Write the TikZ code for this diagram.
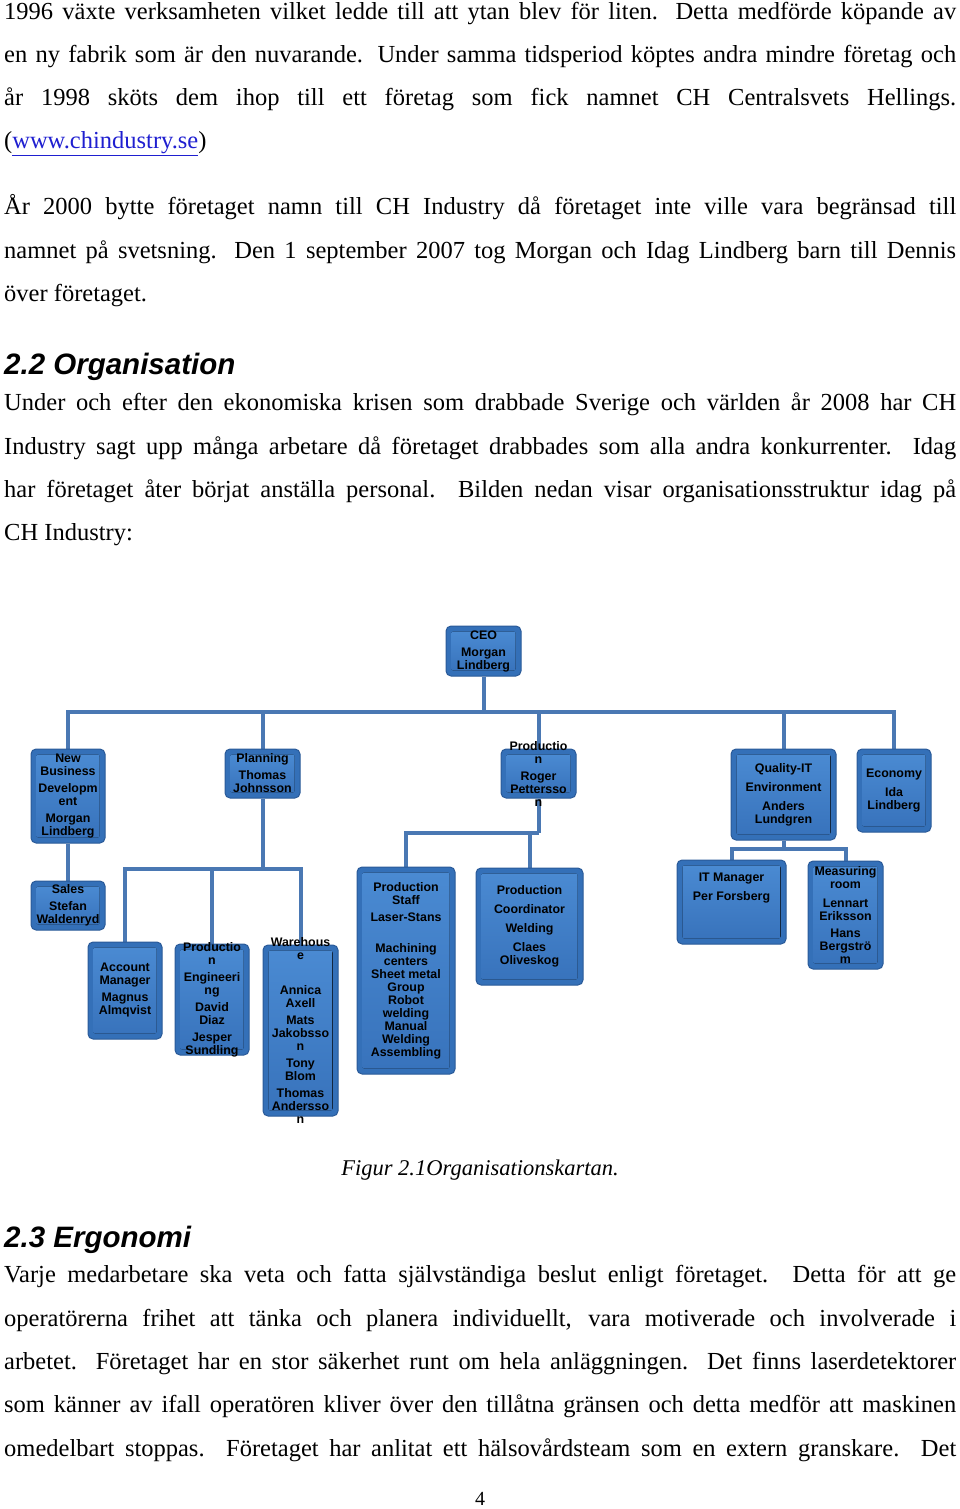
\documentclass[tikz,border=0pt]{standalone}
\usepackage{fontspec}
\setmainfont{Liberation Serif}
\newfontfamily\arialf{Liberation Sans}
\usetikzlibrary{backgrounds}
\definecolor{conncol}{HTML}{4A78B3}
\definecolor{boxedge}{HTML}{2A5A98}
\definecolor{boxout}{HTML}{3470B8}
\definecolor{facetop}{HTML}{4A8AD2}
\definecolor{facebot}{HTML}{3873BC}
\definecolor{linkblue}{HTML}{1F1FD0}
\tikzset{
 boxo/.style={draw=boxedge,line width=1pt,fill=boxout,rounded corners=5pt,inner sep=0pt},
 boxt/.style={align=center,font=\arialf\bfseries\fontsize{12.4pt}{13pt}\selectfont,text=black,inner sep=0pt},
 conn/.style={draw=conncol,line width=4pt},
 bodyl/.style={anchor=base west,inner sep=0pt,font=\fontsize{24.5pt}{30pt}\selectfont},
 headl/.style={anchor=base west,inner sep=0pt,font=\arialf\bfseries\itshape\fontsize{29.5pt}{34pt}\selectfont}
}
\newcommand\obox[6]{%
 \node[boxo,minimum width=#4pt,minimum height=#5pt] (#1) at (#2,#3) {};
 \fill[top color=facetop,bottom color=facebot,rounded corners=2pt] ([shift={(6pt,-6pt)}]#1.north west) rectangle ([shift={(-6pt,6pt)}]#1.south east);
 \node[boxt] (#1-t) at (#1) {#6};}
\newcommand\jl[2]{\node[bodyl] at (4,#1) {\makebox[952pt][s]{#2}};}
\newcommand\lastl[2]{\node[bodyl] at (4,#1) {#2};}
\begin{document}
\begin{tikzpicture}[x=1pt,y=-1pt]
\useasboundingbox (0,0) rectangle (960,1509);
% text
\jl{20}{1996 växte verksamheten vilket ledde till att ytan blev för liten. Detta medförde köpande av}
\jl{63}{en ny fabrik som är den nuvarande. Under samma tidsperiod köptes andra mindre företag och}
\jl{106}{år 1998 sköts dem ihop till ett företag som fick namnet CH Centralsvets Hellings.}
\lastl{149}{(\textcolor{linkblue}{\underline{www.chindustry.se}})}
\jl{214}{År 2000 bytte företaget namn till CH Industry då företaget inte ville vara begränsad till}
\jl{258}{namnet på svetsning. Den 1 september 2007 tog Morgan och Idag Lindberg barn till Dennis}
\lastl{301}{över företaget.}
\node[headl] at (4,374) {2.2 Organisation};
\jl{410}{Under och efter den ekonomiska krisen som drabbade Sverige och världen år 2008 har CH}
\jl{454}{Industry sagt upp många arbetare då företaget drabbades som alla andra konkurrenter. Idag}
\jl{497}{har företaget åter börjat anställa personal. Bilden nedan visar organisationsstruktur idag på}
\lastl{540}{CH Industry:}
\node[anchor=base,inner sep=0pt,font=\itshape\fontsize{22.5pt}{26pt}\selectfont] (cap) at (480,1175) {Figur 2.1Organisationskartan.};
\node[headl] at (4,1247) {2.3 Ergonomi};
\jl{1282}{Varje medarbetare ska veta och fatta självständiga beslut enligt företaget. Detta för att ge}
\jl{1326}{operatörerna frihet att tänka och planera individuellt, vara motiverade och involverade i}
\jl{1369}{arbetet. Företaget har en stor säkerhet runt om hela anläggningen. Det finns laserdetektorer}
\jl{1412}{som känner av ifall operatören kliver över den tillåtna gränsen och detta medför att maskinen}
\jl{1456}{omedelbart stoppas. Företaget har anlitat ett hälsovårdsteam som en extern granskare. Det}
\node[anchor=base,inner sep=0pt,font=\fontsize{20pt}{24pt}\selectfont] (pg) at (480,1505) {4};
% org chart
\obox{ceo}{483.5}{651}{75}{50}{CEO\\[4pt]Morgan\\Lindberg}
\obox{nbd}{68}{796}{74}{94}{New\\Business\\[4pt]Developm\\ent\\[4pt]Morgan\\Lindberg}
\obox{sales}{68}{905.5}{74}{49}{Sales\\[4pt]Stefan\\Waldenryd}
\obox{plan}{262.5}{773.5}{75}{49}{Planning\\[4pt]Thomas\\Johnsson}
\obox{acct}{125}{990.5}{74}{97}{Account\\Manager\\[4pt]Magnus\\Almqvist}
\obox{peng}{212}{999.5}{74}{111}{Productio\\n\\[4pt]Engineeri\\ng\\[4pt]David\\Diaz\\[4pt]Jesper\\Sundling}
\obox{ware}{300.5}{1030.5}{75}{171}{Warehous\\e\\[22pt]Annica\\Axell\\[4pt]Mats\\Jakobsso\\n\\[4pt]Tony\\Blom\\[4pt]Thomas\\Andersso\\n}
\obox{pstaff}{406}{970.5}{98}{207}{Production\\Staff\\[4pt]Laser-Stans\\[18pt]Machining\\centers\\Sheet metal\\Group\\Robot\\welding\\Manual\\Welding\\Assembling}
\obox{prod}{538.5}{773.5}{75}{49}{Productio\\n\\[4pt]Roger\\Pettersso\\n}
\obox{coord}{529.5}{926.5}{107}{117}{Production\\[6pt]Coordinator\\[6pt]Welding\\[6pt]Claes\\Oliveskog}
\obox{qual}{783.5}{794.5}{105}{91}{Quality-IT\\[6pt]Environment\\[6pt]Anders\\Lundgren}
\obox{econ}{894}{790.5}{74}{83}{Economy\\[6pt]Ida\\Lindberg}
\obox{itm}{731.5}{902}{109}{84}{IT Manager\\[6pt]Per Forsberg\\[18pt]}
\obox{meas}{845.5}{915}{75}{108}{Measuring\\room\\[6pt]Lennart\\Eriksson\\[4pt]Hans\\Bergströ\\m}
\begin{scope}[on background layer]
\coordinate (bus) at (0,712);
\coordinate (pbus) at (0,869);
\coordinate (rbus) at (0,833);
\coordinate (qbus) at (0,849);
\draw[conn] (ceo.south) -- (ceo.south |- bus);
\draw[conn] (nbd.north) -- (nbd.north |- bus) -- (econ.north |- bus) -- (econ.north);
\draw[conn] (plan.north) -- (plan.north |- bus);
\draw[conn] (prod.north) -- (prod.north |- bus);
\draw[conn] (qual.north) -- (qual.north |- bus);
\draw[conn] (nbd.south) -- (sales.north);
\draw[conn] (plan.south) -- (plan.south |- pbus);
\draw[conn] (acct.north) -- (acct.north |- pbus) -- (ware.north |- pbus) -- (ware.north);
\draw[conn] (peng.north) -- (peng.north |- pbus);
\draw[conn] (prod.south) -- (prod.south |- rbus);
\draw[conn] (pstaff.north) -- (pstaff.north |- rbus) -- (prod.south |- rbus);
\draw[conn] (coord.north) -- (coord.north |- rbus);
\draw[conn] (qual.south) -- (qual.south |- qbus);
\draw[conn] (itm.north) -- (itm.north |- qbus) -- (meas.north |- qbus) -- (meas.north);
\end{scope}
\end{tikzpicture}
\end{document}
